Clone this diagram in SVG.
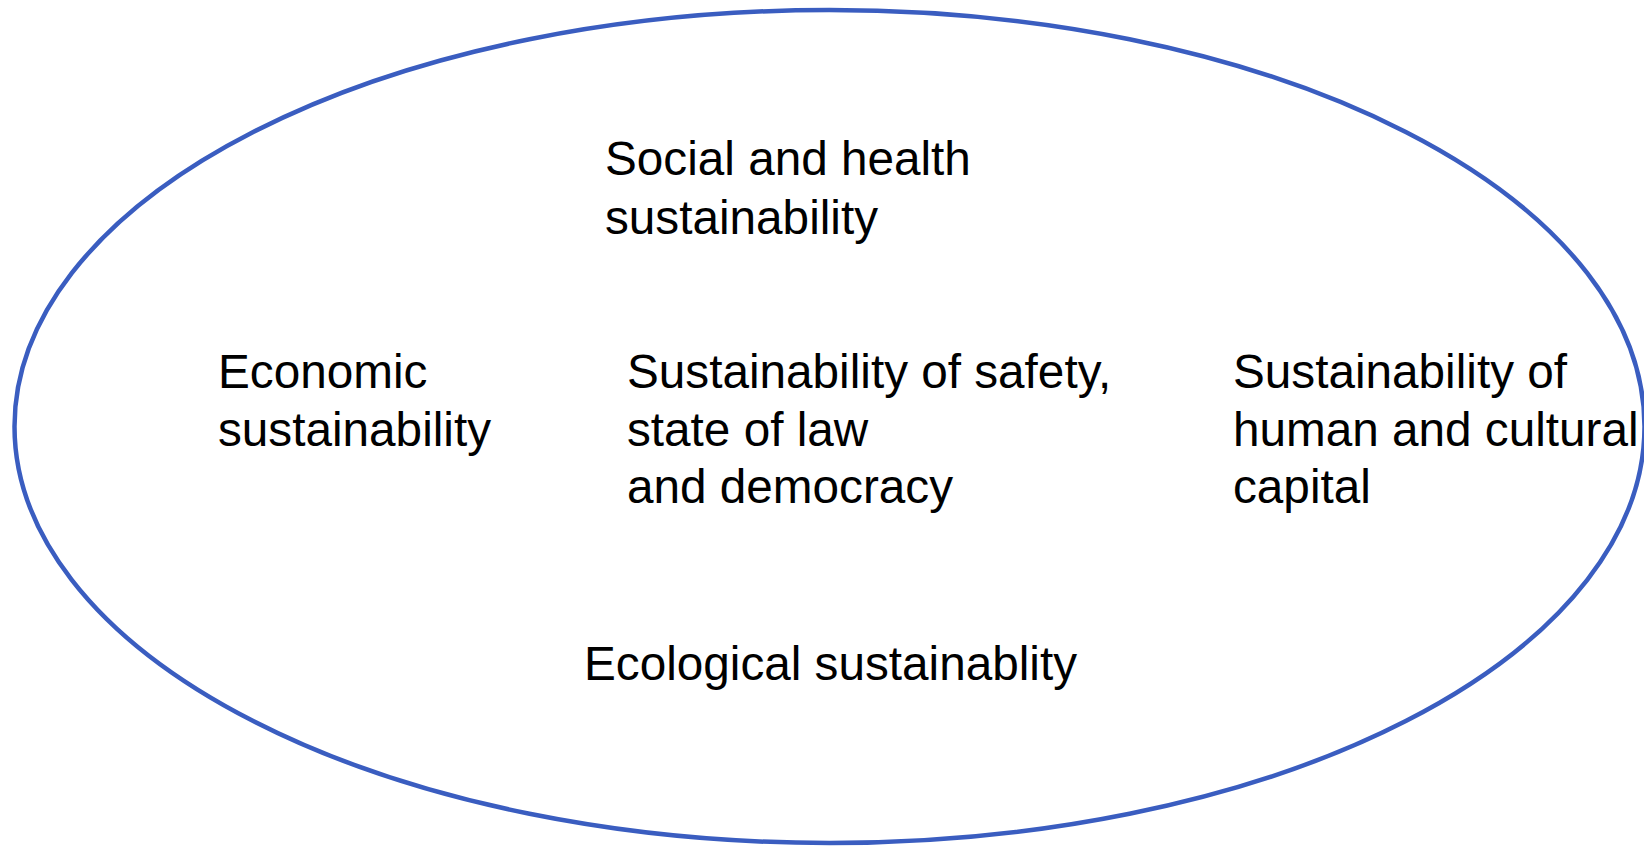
<svg xmlns="http://www.w3.org/2000/svg" width="1644" height="848" viewBox="0 0 1644 848">
<style>
.t{font-family:"Liberation Sans",Arial,sans-serif;font-size:47.7px;fill:#000}
.e{fill:none;stroke:#3A5DC0;stroke-width:4.5}
</style>
<rect width="1644" height="848" fill="#fff"/>
<g id="ellipse"><ellipse class="e" cx="829.5" cy="426.5" rx="815" ry="416.5"/></g>
<g id="social"><text class="t" x="605" y="175">Social and health</text><text class="t" x="605" y="234">sustainability</text></g>
<g id="economic"><text class="t" x="218" y="388">Economic</text><text class="t" x="218" y="446">sustainability</text></g>
<g id="safety"><text class="t" x="627" y="388">Sustainability of safety,</text><text class="t" x="627" y="446">state of law</text><text class="t" x="627" y="503">and democracy</text></g>
<g id="human"><text class="t" x="1233" y="388">Sustainability of</text><text class="t" x="1233" y="446">human and cultural</text><text class="t" x="1233" y="503">capital</text></g>
<g id="ecological"><text class="t" x="584" y="680">Ecological sustainablity</text></g>
<g id="connectors"/>
</svg>
